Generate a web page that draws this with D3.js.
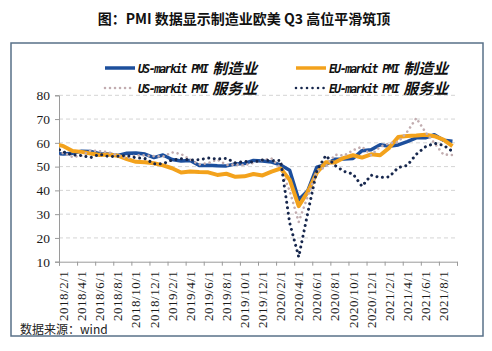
<!DOCTYPE html>
<html><head><meta charset="utf-8">
<script src="https://cdn.jsdelivr.net/npm/d3@7"></script>
<style>
html,body{margin:0;padding:0;background:#fff;}
svg{display:block;}
.serif{font-family:"Times New Roman","Liberation Serif","DejaVu Serif",serif;}
</style></head>
<body>
<svg id="chart" width="492" height="351"></svg>
<script>
// months from 2018/1 to 2021/9
const months = ["2018/1","2018/2","2018/3","2018/4","2018/5","2018/6","2018/7","2018/8","2018/9","2018/10","2018/11","2018/12",
"2019/1","2019/2","2019/3","2019/4","2019/5","2019/6","2019/7","2019/8","2019/9","2019/10","2019/11","2019/12",
"2020/1","2020/2","2020/3","2020/4","2020/5","2020/6","2020/7","2020/8","2020/9","2020/10","2020/11","2020/12",
"2021/1","2021/2","2021/3","2021/4","2021/5","2021/6","2021/7","2021/8","2021/9"];
const usMfg = [55.5,55.3,55.6,56.5,56.4,55.4,55.3,54.7,55.6,55.7,55.3,53.8,
 54.9,53.0,52.4,52.6,50.5,50.6,50.4,50.3,51.1,51.3,52.6,52.4,
 51.9,50.7,48.5,36.1,39.8,49.8,50.9,53.1,53.2,53.4,56.7,57.1,
 59.2,58.6,59.1,60.5,62.1,62.1,63.4,61.1,60.7];
const euMfg = [59.6,58.6,56.6,56.2,55.5,54.9,55.1,54.6,53.2,52.0,51.8,51.4,
 50.5,49.3,47.5,47.9,47.7,47.6,46.5,47.0,45.7,45.9,46.9,46.3,
 47.9,49.2,44.5,33.4,39.4,47.4,51.8,51.7,53.7,54.8,53.8,55.2,
 54.8,57.9,62.5,62.9,63.1,63.4,62.8,61.4,58.6];
const usSvc = [53.3,55.9,54.0,54.6,56.8,56.5,56.0,54.8,53.5,54.8,54.7,54.4,
 54.2,56.0,55.3,53.0,50.9,51.5,53.0,50.7,50.9,50.6,51.6,52.8,
 53.4,49.4,39.8,26.7,37.5,47.9,50.0,55.0,54.6,56.9,58.4,54.8,
 58.3,59.8,60.4,64.7,70.4,64.6,59.9,55.1,54.9];
const euSvc = [58.0,56.2,54.9,54.7,53.8,55.2,54.2,54.4,54.7,53.7,53.4,51.2,
 51.2,52.8,53.3,52.8,52.9,53.6,53.2,53.5,51.6,52.2,51.9,52.8,
 52.5,52.6,26.4,12.0,30.5,48.3,54.7,50.5,48.0,46.9,41.7,46.4,
 45.4,45.7,49.6,50.5,55.2,58.3,59.8,59.0,56.4];
const xLabels = ["2018/2/1","2018/4/1","2018/6/1","2018/8/1","2018/10/1","2018/12/1",
"2019/2/1","2019/4/1","2019/6/1","2019/8/1","2019/10/1","2019/12/1",
"2020/2/1","2020/4/1","2020/6/1","2020/8/1","2020/10/1","2020/12/1",
"2021/2/1","2021/4/1","2021/6/1","2021/8/1"];
const yTicks = [10,20,30,40,50,60,70,80];
const seriesNames = ["US-markit PMI 制造业","EU-markit PMI 制造业","US-markit PMI 服务业","EU-markit PMI 服务业"];
const title = "图：PMI 数据显示制造业欧美 Q3 高位平滑筑顶";
const source = "数据来源：wind";

const svg = d3.select("#chart");
const cjk = "'Noto Sans CJK SC','Noto Sans',sans-serif";

// frame
svg.append("rect").attr("x",11).attr("y",43).attr("width",472).attr("height",293)
  .attr("fill","#fff").attr("stroke","#587088").attr("stroke-width",1.5);

// title
svg.append("text").attr("x",244).attr("y",24).attr("text-anchor","middle")
  .style("font-family",cjk).attr("font-weight","bold").attr("font-size",14).attr("fill","#111")
  .text(title);

const monthIndex = s => { const [yy,m] = s.split("/").map(Number); return (yy-2018)*12 + (m-1); };
const x = d3.scaleLinear().domain([1, 45]).range([59, 457]);
const y = d3.scaleLinear().domain([10, 80]).range([261.7, 95.3]);

// gridlines
svg.append("g").selectAll("line").data(yTicks.filter(v=>v>10)).join("line")
  .attr("x1",x(1)).attr("x2",x(45)).attr("y1",d=>y(d)).attr("y2",d=>y(d))
  .attr("stroke","#d4d4d4").attr("stroke-width",1).attr("stroke-dasharray","4,3");

// y axis
const yAxis = svg.append("g").attr("transform",`translate(${x(1)},0)`)
  .call(d3.axisLeft(y).tickValues(yTicks).tickSize(4).tickPadding(5).tickFormat(d3.format("d")));
yAxis.attr("font-family",null);
yAxis.select(".domain").attr("stroke","#9a9a9a");
yAxis.selectAll(".tick line").attr("stroke","#9a9a9a");
yAxis.selectAll("text").attr("class","serif").style("font-size","13.5px").attr("fill","#1a1a1a");

// x axis (tick marks at month boundaries every 2 months)
const tickVals = d3.range(0, xLabels.length + 1).map(i => i === xLabels.length ? monthIndex(xLabels[i-1]) + 2 : monthIndex(xLabels[i]));
const xAxis = svg.append("g").attr("transform",`translate(0,${y(10)})`)
  .call(d3.axisBottom(x).tickValues(tickVals).tickSize(4).tickFormat(""));
xAxis.select(".domain").attr("stroke","#9a9a9a");
xAxis.selectAll(".tick line").attr("stroke","#9a9a9a");

svg.append("g").selectAll("text").data(xLabels).join("text")
  .attr("class","serif")
  .attr("transform", d => `translate(${x(monthIndex(d)+0.5)},${y(10)+9}) rotate(-90)`)
  .attr("text-anchor","end").attr("dy","0.35em")
  .style("font-size","13px").style("letter-spacing","0.5px").attr("fill","#1a1a1a")
  .text(d=>d);

// clip
svg.append("clipPath").attr("id","plot").append("rect")
  .attr("x",x(1)).attr("y",y(80)-20).attr("width",x(45)-x(1)).attr("height",y(10)-y(80)+20);

const line = d3.line().x((d,i)=>x(i+0.5)).y(d=>y(d));
const styles = [
  {data:usMfg, color:"#1d4f9c", w:3.5, dash:null},
  {data:euMfg, color:"#f3a21c", w:4, dash:null},
  {data:usSvc, color:"#c2adb0", w:2.6, dash:"0.01,5"},
  {data:euSvc, color:"#17274d", w:3, dash:"0.01,5.5"}
];
const gLines = svg.append("g").attr("clip-path","url(#plot)");
styles.forEach(s=>{
  gLines.append("path").datum(s.data).attr("d",line).attr("fill","none")
    .attr("stroke",s.color).attr("stroke-width",s.w)
    .attr("stroke-linejoin","round")
    .attr("stroke-linecap", s.dash ? "round" : "butt")
    .attr("stroke-dasharray", s.dash);
});

// legend
const legPos = [[105,68],[296,68],[105,88],[296,88]];
styles.forEach((s,i)=>{
  const [lx,ly] = legPos[i];
  svg.append("line").attr("x1",lx).attr("x2",lx+30).attr("y1",ly).attr("y2",ly)
    .attr("stroke",s.color).attr("stroke-width",s.dash?2.6:3.5)
    .attr("stroke-linecap",s.dash?"round":"butt").attr("stroke-dasharray",s.dash);
  const name = seriesNames[i];
  const latin = name.slice(0, name.lastIndexOf(" "));
  const han = name.slice(name.lastIndexOf(" ")+1);
  const t = svg.append("text").attr("x",lx+33).attr("y",ly+4.5).attr("fill","#111")
    .attr("font-weight","bold").attr("font-style","italic");
  t.append("tspan").style("font-family","'DejaVu Sans Mono',monospace")
    .style("font-size","11.5px").style("letter-spacing","-1.6px").text(latin);
  t.append("tspan").attr("dx",5).attr("dy",1).style("font-family",cjk)
    .style("font-size","15px").style("letter-spacing","0px").text(han);
});

// source
svg.append("text").attr("x",20).attr("y",334).style("font-family",cjk).attr("font-size",12).attr("fill","#222")
  .text(source);
</script>
</body></html>
